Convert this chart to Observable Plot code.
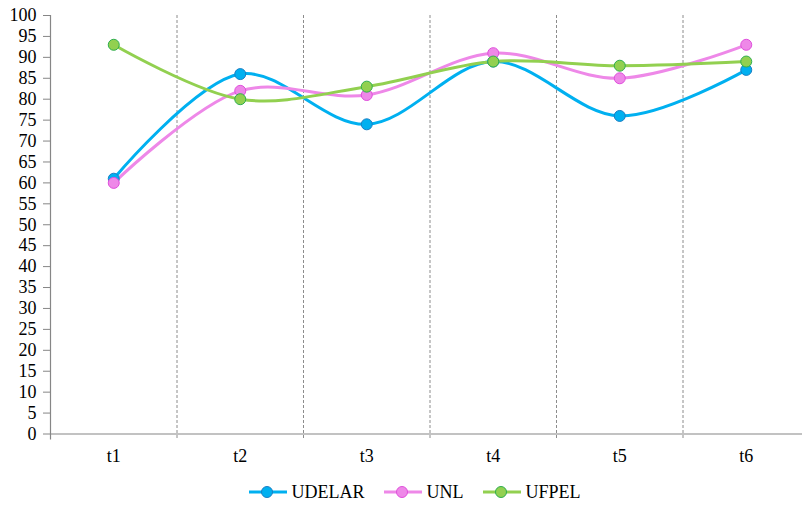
<!DOCTYPE html>
<html>
<head>
<meta charset="utf-8">
<script src="https://cdn.jsdelivr.net/npm/d3@7"></script>
<script src="https://cdn.jsdelivr.net/npm/@observablehq/plot@0.6"></script>
<style>
  html, body { margin: 0; padding: 0; background: #fff; overflow: hidden; width: 802px; height: 505px; }
  svg, svg text { font-family: 'Liberation Serif' !important; }
  #legend { display: flex; justify-content: center; align-items: center; height: 24px; margin-top: 10px; padding-left: 28px;
            font-family: 'Liberation Serif'; font-size: 18px; color: #000; }
  .item { display: flex; align-items: center; margin: 0 10px; }
  .item svg { margin-right: 4px; }
</style>
</head>
<body>
<div id="chart"></div>
<div id="legend"></div>
<script>
const categories = ["t1", "t2", "t3", "t4", "t5", "t6"];
const seriesNames = ["UDELAR", "UNL", "UFPEL"];
const udelar = [61, 86, 74, 89, 76, 87];
const unl = [60, 82, 81, 91, 85, 93];
const ufpel = [93, 80, 83, 89, 88, 89];
const yTicks = d3.range(0, 101, 5);

const lineColors = {UDELAR: "#00b0f0", UNL: "#ee88e8", UFPEL: "#92d050"};
const dotStroke = {UDELAR: "#1a7fc4", UNL: "#e04fdc", UFPEL: "#2fae4e"};

const valuesBy = {UDELAR: udelar, UNL: unl, UFPEL: ufpel};
const data = seriesNames.flatMap(s => categories.map((c, i) => ({series: s, cat: c, idx: i + 1, value: valuesBy[s][i]})));
const boundaries = d3.range(1.5, categories.length, 1);

const plot = Plot.plot({
  width: 802,
  height: 470,
  marginLeft: 50,
  marginRight: -7,
  marginTop: 15,
  marginBottom: 36.5,
  style: {fontFamily: "Liberation Serif", fontSize: "18px", color: "#000", background: "#fff", overflow: "visible"},
  x: {domain: [0.5, categories.length + 0.5]},
  y: {domain: [0, 100]},
  marks: [
    Plot.ruleX(boundaries, {stroke: "#8c8c8c", strokeWidth: 1, strokeDasharray: "3,2", insetBottom: -6}),
    Plot.ruleX([0.5], {stroke: "#868686", strokeWidth: 1.2, insetBottom: -6}),
    Plot.ruleY([0], {stroke: "#868686", strokeWidth: 1.2}),
    Plot.axisY({ticks: yTicks, tickSize: 7, tickPadding: 7, stroke: "#868686", fill: "#000", label: null, fontSize: 18}),
    Plot.axisX({ticks: d3.range(1, categories.length + 1), tickFormat: d => categories[d - 1], tickSize: 0, tickPadding: 15, label: null, fill: "#000", fontSize: 18}),
    Plot.line(data, {x: "idx", y: "value", z: "series", stroke: d => lineColors[d.series], strokeWidth: 3, curve: "catmull-rom"}),
    Plot.dot(data, {x: "idx", y: "value", r: 5.5, fill: d => lineColors[d.series], stroke: d => dotStroke[d.series], strokeWidth: 1})
  ]
});
document.getElementById("chart").appendChild(plot);

const legend = document.getElementById("legend");
seriesNames.forEach(s => {
  const item = document.createElement("div");
  item.className = "item";
  item.innerHTML = `<svg width="38" height="14"><line x1="0" y1="7" x2="38" y2="7" stroke="${lineColors[s]}" stroke-width="3"/><circle cx="18" cy="7" r="5.5" fill="${lineColors[s]}" stroke="${dotStroke[s]}" stroke-width="1"/></svg><span>${s}</span>`;
  legend.appendChild(item);
});
</script>
</body>
</html>
